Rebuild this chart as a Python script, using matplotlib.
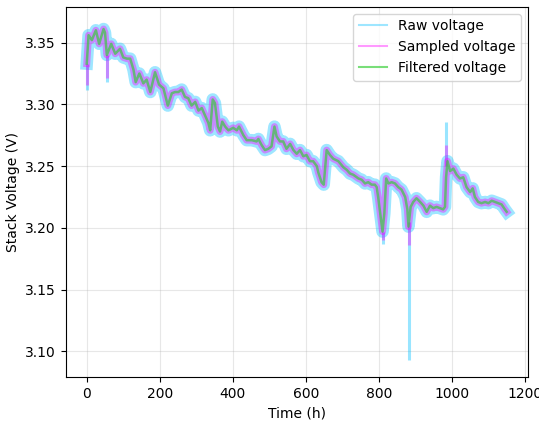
import numpy as np
import matplotlib
matplotlib.use('Agg')
import matplotlib.pyplot as plt

# voltage trace (centre of the bands)
time_h = [0, 5, 14, 25, 34, 46, 50, 55, 67, 78, 91, 100, 110, 119, 128, 134,
          144, 155, 164, 174, 187, 198, 210, 222, 233, 242, 251, 260, 269, 278,
          287, 297, 306, 315, 324, 333, 338, 345, 351, 359, 365, 371, 379, 388,
          401, 411, 417, 429, 438, 452, 465, 470, 479, 488, 497, 506, 514, 520,
          529, 538, 547, 557, 566, 575, 584, 593, 602, 611, 620, 630, 634, 643,
          649, 657, 666, 675, 689, 703, 712, 721, 730, 744, 753, 762, 771, 780,
          789, 794, 798, 805, 810, 815, 820, 826, 835, 844, 853, 862, 872, 878,
          881, 887, 894, 903, 913, 922, 931, 940, 949, 958, 967, 976, 981, 984,
          988, 995, 1004, 1013, 1022, 1031, 1040, 1050, 1057, 1063, 1072, 1081,
          1091, 1100, 1109, 1118, 1127, 1136, 1145, 1150]
voltage = [3.333, 3.356, 3.352, 3.360, 3.349, 3.361, 3.358, 3.340, 3.349, 3.341,
           3.345, 3.338, 3.337, 3.337, 3.328, 3.318, 3.325, 3.317, 3.320, 3.310,
           3.326, 3.316, 3.313, 3.299, 3.309, 3.310, 3.310, 3.312, 3.306, 3.305,
           3.299, 3.302, 3.295, 3.297, 3.291, 3.285, 3.279, 3.304, 3.301, 3.282,
           3.278, 3.286, 3.282, 3.279, 3.281, 3.279, 3.282, 3.275, 3.271, 3.271,
           3.270, 3.272, 3.267, 3.263, 3.264, 3.266, 3.282, 3.274, 3.270, 3.270,
           3.264, 3.268, 3.263, 3.260, 3.263, 3.258, 3.259, 3.254, 3.254, 3.250,
           3.245, 3.237, 3.235, 3.263, 3.259, 3.256, 3.254, 3.249, 3.247, 3.244,
           3.243, 3.240, 3.239, 3.236, 3.237, 3.235, 3.235, 3.233, 3.225, 3.209,
           3.197, 3.212, 3.240, 3.236, 3.237, 3.236, 3.233, 3.231, 3.225, 3.215,
           3.201, 3.217, 3.221, 3.224, 3.221, 3.218, 3.213, 3.218, 3.216, 3.217,
           3.216, 3.215, 3.217, 3.241, 3.254, 3.246, 3.248, 3.243, 3.240, 3.241,
           3.233, 3.229, 3.232, 3.225, 3.221, 3.220, 3.221, 3.220, 3.222, 3.221,
           3.220, 3.219, 3.215, 3.213]

# short excursions of the raw / sampled signals beyond the band
spike_t = [0, 55, 810, 883, 985]
spike_base = [3.333, 3.340, 3.197, 3.205, 3.250]
raw_spike = [3.3115, 3.318, 3.187, 3.093, 3.286]
sampled_spike = [3.3155, 3.321, 3.190, 3.186, 3.267]

fig = plt.figure(figsize=(5.39, 4.24), dpi=100)
ax = fig.add_axes([0.122, 0.110, 0.857, 0.874])

raw_c, samp_c, filt_c = 'deepskyblue', 'magenta', 'limegreen'

ax.plot(time_h, voltage, color=raw_c, alpha=0.38, lw=9,
        solid_joinstyle='round', label='Raw voltage')
ax.vlines(spike_t, spike_base, raw_spike, color=raw_c, alpha=0.4, lw=2.2)
ax.plot(time_h, voltage, color=samp_c, alpha=0.4, lw=5,
        solid_joinstyle='round', label='Sampled voltage')
ax.vlines(spike_t, spike_base, sampled_spike, color=samp_c, alpha=0.4, lw=2.2)
ax.plot(time_h, voltage, color=filt_c, alpha=0.65, lw=1.8, label='Filtered voltage')

ax.set_xlim(-57.5, 1207.5)
ax.set_ylim(3.079, 3.379)
ax.set_xlabel('Time (h)')
ax.set_ylabel('Stack Voltage (V)')
ax.grid(True, alpha=0.3)

leg = ax.legend(loc='upper right')
for line in leg.get_lines():
    line.set_linewidth(1.5)

fig.savefig('out.png', dpi=100)
